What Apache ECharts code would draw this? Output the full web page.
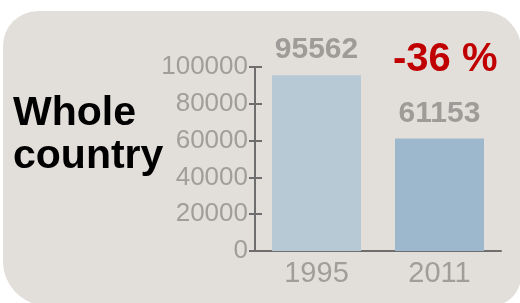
<!DOCTYPE html>
<html>
<head>
<meta charset="utf-8">
<script src="https://cdn.jsdelivr.net/npm/echarts@6/dist/echarts.min.js"></script>
<style>
html,body{margin:0;padding:0;background:#ffffff;}
#chart{width:520px;height:303px;}
</style>
</head>
<body>
<div id="chart"></div>
<script>
var categories = ['1995', '2011'];
var values = [95562, 61153];
var barColors = ['#b8c9d6', '#9db7cd'];
var yTicks = [0, 20000, 40000, 60000, 80000, 100000];
var changeLabel = '-36 %';
var titleLines = ['Whole', 'country'];

var NARROW = "'Liberation Sans',Arial,sans-serif";
var SANS = "'Liberation Sans',Arial,sans-serif";
var AXIS = '#6e6e6e';
var GREY = '#a09d9b';

var chart = echarts.init(document.getElementById('chart'), null, {renderer: 'canvas'});
var yAxisBase = {
  type: 'value', min: yTicks[0], max: yTicks[yTicks.length - 1], interval: yTicks[1] - yTicks[0],
  splitLine: {show: false},
  axisLine: {show: true, lineStyle: {color: AXIS, width: 2}}
};
chart.setOption({
  animation: false,
  backgroundColor: 'transparent',
  graphic: [
    {type: 'rect', z: -10, shape: {x: 3, y: 11, width: 518, height: 295, r: [35, 38, 30, 45]},
     style: {fill: '#e2dfdb'}},
    {type: 'text', left: 13, top: 93, style: {text: titleLines[0], font: 'bold 41px ' + SANS, fill: '#000000'}},
    {type: 'text', left: 13, top: 136, style: {text: titleLines[1], font: 'bold 41px ' + SANS, fill: '#000000'}},
    {type: 'text', left: 393, top: 40, style: {text: changeLabel, font: 'bold 40px ' + SANS, fill: '#c00000'}}
  ],
  grid: {left: 255, right: 19, top: 67, bottom: 52, containLabel: false},
  xAxis: {
    type: 'category', data: categories,
    axisLine: {show: true, lineStyle: {color: AXIS, width: 2}},
    axisTick: {show: false},
    axisLabel: {color: GREY, fontSize: 29, fontFamily: NARROW, margin: 8}
  },
  yAxis: [
    Object.assign({}, yAxisBase, {
      axisTick: {show: true, inside: false, length: 6, lineStyle: {color: AXIS, width: 2}},
      axisLabel: {color: GREY, fontSize: 26, fontFamily: NARROW, margin: 7,
                  formatter: function (v) { return String(v); }}
    }),
    Object.assign({}, yAxisBase, {
      position: 'left',
      axisTick: {show: true, inside: true, length: 7, lineStyle: {color: AXIS, width: 2}},
      axisLabel: {show: false}
    })
  ],
  series: [{
    type: 'bar', yAxisIndex: 0, barWidth: 89,
    data: values.map(function (v, i) { return {value: v, itemStyle: {color: barColors[i]}}; }),
    label: {show: true, position: 'top', distance: 10, color: '#9e9b99',
            fontSize: 30, fontWeight: 'bold', fontFamily: NARROW}
  }]
});
</script>
</body>
</html>
